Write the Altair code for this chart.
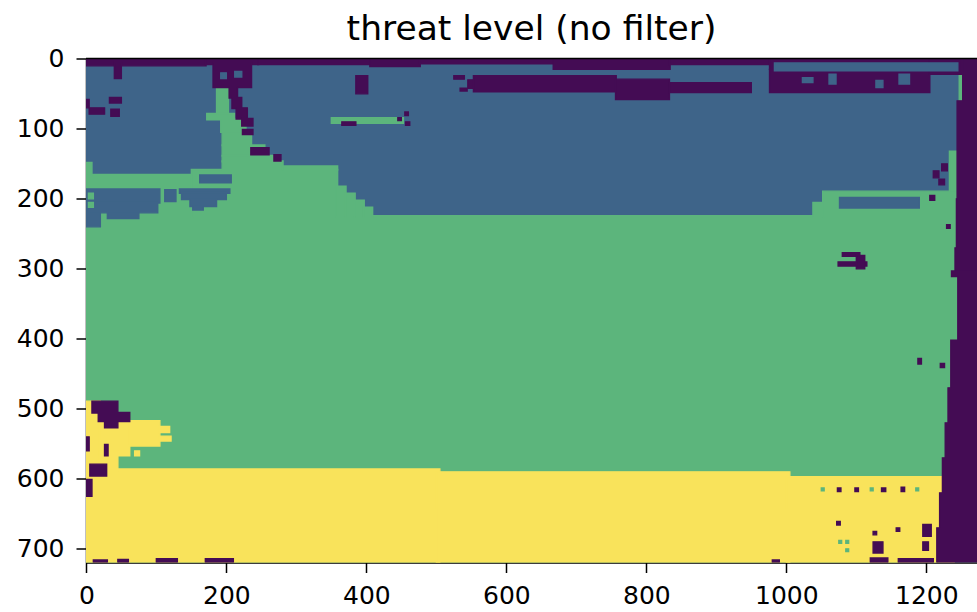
import altair as alt
import pandas as pd

# ---- classes (0 = lowest threat, 3 = highest) and their colours ----
levels = [0, 1, 2, 3]
level_colors = ["#440c54", "#3e6489", "#5cb57c", "#f9e35b"]

# ---- axis ticks ----
x_ticks = [0, 200, 400, 600, 800, 1000, 1200]
y_ticks = [0, 100, 200, 300, 400, 500, 600, 700]

# ---- regions of the class map, [x0, x1, y0, y1] in pixel coordinates ----
base_green = [[0, 1280, 0, 720]]

blue_top = [[0, 1245, 0, 222]]

green_cuts = [
    [0, 152, 165, 226], [150, 359, 158, 226],
    [186, 203, 42, 81], [172, 212, 78, 87], [192, 228, 86, 105], [194, 236, 104, 124],
    [194, 255, 123, 139], [194, 270, 138, 147], [194, 281, 146, 159], [280, 359, 153, 159],
    [357, 371, 182, 226], [370, 384, 192, 226], [383, 397, 202, 226], [396, 409, 212, 226],
    [0, 8, 148, 166], [46, 60, 1, 7],
    [350, 453, 84, 92],
    [1038, 1053, 205, 226], [1052, 1245, 189, 226], [1233, 1245, 132, 190],
]

blue_patches = [
    [0, 105, 186, 206], [0, 102, 205, 220], [0, 20, 219, 240], [30, 75, 219, 228],
    [112, 128, 187, 204], [133, 205, 186, 192], [136, 200, 191, 201], [148, 186, 200, 211],
    [152, 167, 210, 216], [162, 207, 166, 177], [1076, 1190, 198, 213],
]

yellow_areas = [
    [0, 505, 586, 720], [500, 1005, 590, 720], [1000, 1240, 597, 720],
    [0, 20, 489, 588], [19, 62, 517, 567], [61, 105, 517, 553],
    [104, 119, 525, 534], [104, 121, 539, 546], [19, 45, 560, 588],
]

purple_patches = [
    [0, 171, 0, 10], [170, 246, 0, 8], [245, 406, 0, 8], [405, 477, 0, 11],
    [476, 668, 0, 7], [667, 834, 0, 15], [833, 977, 0, 8], [976, 1280, 0, 15],
    [40, 50, 5, 28], [0, 4, 58, 70], [4, 26, 70, 79], [33, 50, 55, 63], [35, 47, 72, 82],
    [181, 236, 5, 41], [204, 216, 40, 56], [208, 222, 55, 71], [214, 230, 70, 86],
    [222, 238, 85, 96], [223, 238, 101, 108], [235, 261, 127, 137], [268, 278, 137, 146],
    [385, 402, 24, 50], [365, 385, 90, 95], [455, 460, 76, 81], [456, 462, 90, 95],
    [445, 450, 84, 88], [525, 540, 24, 29], [534, 544, 42, 46],
    [545, 560, 30, 42], [553, 757, 24, 47], [756, 833, 29, 58],
    [833, 950, 34, 48], [976, 1205, 15, 48], [1204, 1250, 0, 22],
    [1210, 1218, 160, 170], [1222, 1230, 150, 160], [1218, 1226, 172, 180], [1205, 1212, 195, 202],
    [1080, 1105, 277, 282], [1074, 1115, 290, 296], [1100, 1112, 281, 300],
    [1229, 1234, 237, 242], [1188, 1193, 428, 436], [1220, 1226, 435, 441],
    [8, 45, 489, 506], [17, 62, 505, 518], [26, 45, 517, 527], [0, 4, 540, 560],
    [26, 31, 551, 567], [5, 29, 579, 596], [0, 8, 601, 625],
    [1073, 1078, 613, 618], [1098, 1103, 613, 618], [1136, 1142, 613, 618], [1164, 1169, 612, 618],
    [1072, 1077, 661, 666], [1124, 1129, 675, 680], [1157, 1162, 670, 675], [1195, 1207, 665, 682],
    [1124, 1138, 690, 706], [1195, 1203, 690, 702], [1120, 1145, 713, 720],
    [10, 30, 716, 720], [45, 60, 715, 720], [100, 130, 714, 720], [170, 210, 714, 720],
    [980, 990, 716, 720], [1160, 1210, 714, 720],
]

blue_holes = [
    [983, 1245, 6, 17], [1023, 1038, 27, 34], [1061, 1071, 22, 36], [1128, 1138, 31, 41],
    [1161, 1176, 22, 36], [192, 200, 20, 28], [212, 222, 18, 26],
]

green_specks = [
    [3, 10, 192, 200], [3, 10, 205, 212], [1050, 1054, 613, 617], [1120, 1124, 613, 617],
    [1185, 1189, 613, 617], [1075, 1079, 688, 692], [1085, 1089, 688, 692], [1085, 1089, 700, 704],
]

yellow_specks = [[69, 76, 560, 567]]

# right-hand dark strip, in horizontal slices
right_strip = [
    [1252, 1280, 0, 61], [1244, 1280, 60, 201], [1243, 1280, 200, 271], [1241, 1280, 270, 304],
    [1236, 1280, 303, 311], [1245, 1280, 310, 403], [1235, 1280, 402, 471], [1231, 1280, 470, 521],
    [1227, 1280, 520, 571], [1223, 1280, 570, 621], [1219, 1280, 620, 671], [1215, 1280, 670, 720],
]

# ---- build table ----
draw_order = [
    (2, base_green), (1, blue_top), (2, green_cuts), (1, blue_patches),
    (3, yellow_areas), (0, purple_patches), (1, blue_holes), (2, green_specks),
    (3, yellow_specks), (0, right_strip),
]
rows = []
for lvl, rects in draw_order:
    for r in rects:
        rows.append({"x": r[0], "x2": r[1], "y": r[2], "y2": r[3], "level": lvl, "seq": len(rows)})
df = pd.DataFrame(rows)

top_df = pd.DataFrame({"y": [-0.5]})

xs = alt.Scale(domain=[-0.5, 1272.4], nice=False, zero=False)
ys = alt.Scale(domain=[-0.5, 719.5], nice=False, zero=False, reverse=True)
cs = alt.Scale(domain=levels, range=level_colors)

axis_common = dict(
    labelFont="DejaVu Sans", labelFontSize=25, labelColor="black", format="d",
    tickColor="black", tickSize=10, tickWidth=1.5,
    domainColor="black", domainWidth=1.5, grid=False, title=None,
    labelFlush=False, labelOverlap=False,
)

cells = alt.Chart(df).mark_rect(clip=True, strokeWidth=1.4).encode(
    x=alt.X("x:Q", scale=xs, axis=alt.Axis(values=x_ticks, labelPadding=11, **axis_common)),
    x2="x2:Q",
    y=alt.Y("y:Q", scale=ys, axis=alt.Axis(values=y_ticks, labelPadding=12, **axis_common)),
    y2="y2:Q",
    color=alt.Color("level:N", scale=cs, legend=None),
    stroke=alt.Stroke("level:N", scale=cs, legend=None),
    order=alt.Order("seq:Q"),
)

top_spine = alt.Chart(top_df).mark_rule(color="black", strokeWidth=1.5).encode(
    y=alt.Y("y:Q", scale=ys)
)

chart = alt.layer(cells, top_spine).properties(
    width=891,
    height=504,
    autosize=alt.AutoSizeParams(type="none"),
    padding={"left": 86, "top": 58.5, "right": 0, "bottom": 49},
    title=alt.TitleParams(
        "threat level (no filter)", font="DejaVu Sans", fontSize=34.5,
        fontWeight="normal", color="black", anchor="middle",
        baseline="alphabetic", offset=-28,
    ),
).configure_view(stroke=None).configure(background="white")

chart.save("out.html", embed_options={"renderer": "svg", "actions": False})
